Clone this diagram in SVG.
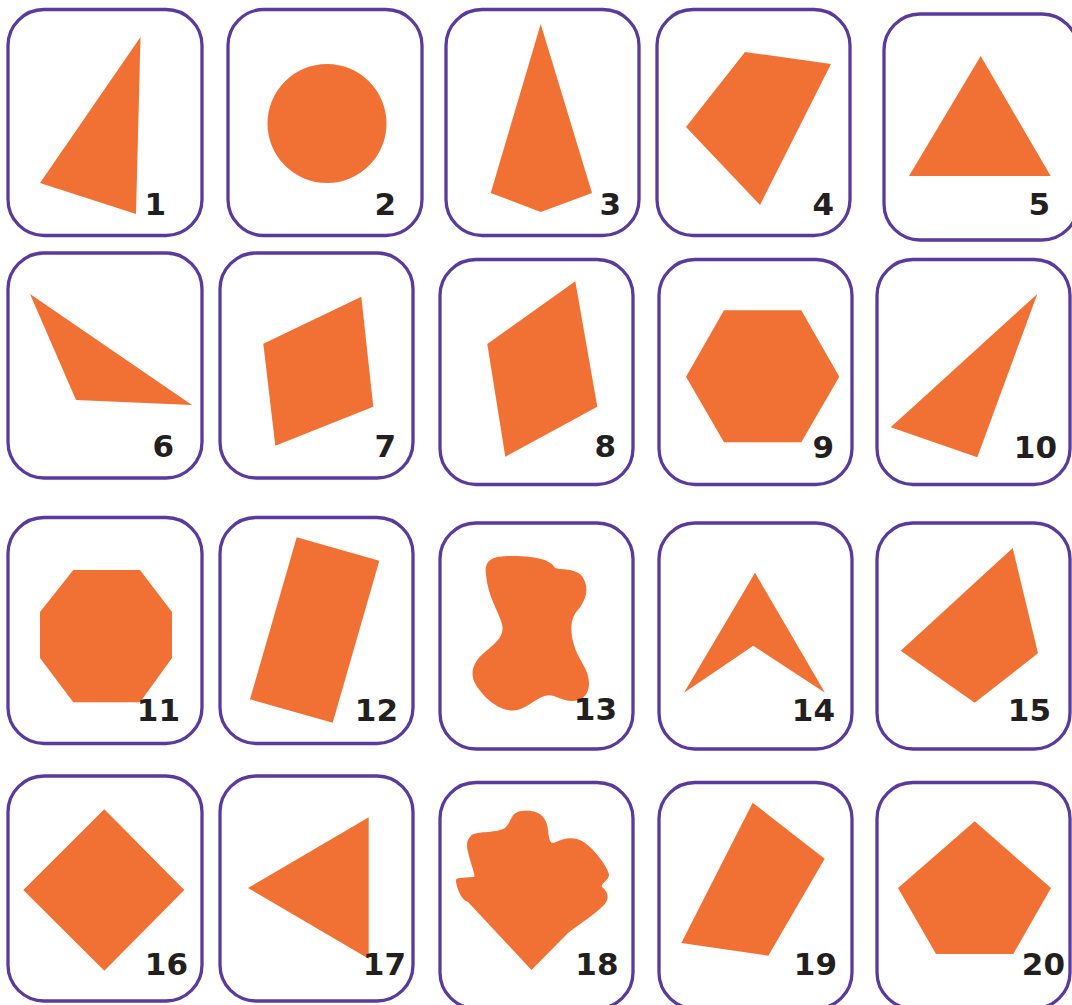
<svg xmlns="http://www.w3.org/2000/svg" width="1072" height="1005" viewBox="0 0 1072 1005">
<style>
.card{fill:#fff;stroke:#5a3a9c;stroke-width:3.3}
.shape{fill:#f17134}
.num{font-family:"DejaVu Sans","Liberation Sans",Arial,sans-serif;font-weight:bold;font-size:31px;fill:#231f20;text-anchor:end}
</style>
<rect width="1072" height="1005" fill="#fff"/>
<g id="card1"><rect class="card" x="8" y="9.5" width="194" height="226" rx="36"/><polygon class="shape" points="140.5,37 40,183 136,214"/><text class="num" x="166" y="215">1</text></g>
<g id="card2"><rect class="card" x="228" y="9.5" width="194" height="226" rx="36"/><circle class="shape" cx="327" cy="123.5" r="59.5"/><text class="num" x="396" y="215">2</text></g>
<g id="card3"><rect class="card" x="446" y="9.5" width="193" height="226" rx="36"/><polygon class="shape" points="540.7,24 592,193 540.7,212 490.7,193"/><text class="num" x="621" y="215">3</text></g>
<g id="card4"><rect class="card" x="657" y="9.5" width="193" height="226" rx="36"/><polygon class="shape" points="745,52 831,64 760,205 686,127"/><text class="num" x="834" y="215">4</text></g>
<g id="card5"><rect class="card" x="884" y="14" width="194" height="226" rx="36"/><polygon class="shape" points="980.7,56 1050.7,176 909,176"/><text class="num" x="1050" y="215">5</text></g>
<g id="card6"><rect class="card" x="8" y="253" width="194" height="225" rx="36"/><polygon class="shape" points="30,294 192,405 76,400"/><text class="num" x="174" y="457">6</text></g>
<g id="card7"><rect class="card" x="220" y="253" width="193" height="225" rx="36"/><polygon class="shape" points="263.3,343.7 361.3,296.7 373.3,406.7 275.3,445.7"/><text class="num" x="396" y="457">7</text></g>
<g id="card8"><rect class="card" x="440" y="259.5" width="193" height="225" rx="36"/><polygon class="shape" points="487.3,344 575.3,281.3 597.3,406.7 505.3,456.7"/><text class="num" x="616" y="457">8</text></g>
<g id="card9"><rect class="card" x="659" y="259.5" width="193" height="225" rx="36"/><polygon class="shape" points="724,310.3 801.3,310.3 839.3,376.7 801.3,442.3 724,442.3 686,376.7"/><text class="num" x="834" y="458">9</text></g>
<g id="card10"><rect class="card" x="877" y="259.5" width="193" height="225" rx="36"/><polygon class="shape" points="1037.3,294 977.3,457.3 890.7,427.3"/><text class="num" x="1057" y="458">10</text></g>
<g id="card11"><rect class="card" x="8" y="517.5" width="194" height="226" rx="36"/><polygon class="shape" points="73.3,570 140,570 172,612 172,658 140,702.3 73.3,702.3 40,658 40,612"/><text class="num" x="180" y="720.5">11</text></g>
<g id="card12"><rect class="card" x="220" y="517.5" width="193" height="226" rx="36"/><polygon class="shape" points="296.7,537.3 379.3,560.7 332.7,722.7 250,699.3"/><text class="num" x="398" y="720.5">12</text></g>
<g id="card13"><rect class="card" x="440" y="523" width="193" height="226" rx="36"/><path class="shape" d="M486 575 C484 560 492 556 510 556 C530 556 550 558 555 568 C560 570 575 568 582 576 C590 588 586 600 578 610 C570 618 570 632 574 645 C578 660 590 670 589 685 C588 700 575 703 565 700 C555 697 550 692 540 698 C530 703 520 713 508 710 C495 708 482 695 476 685 C468 672 475 660 485 652 C495 643 505 637 502 624 C498 610 488 597 486 575 Z"/><text class="num" x="617" y="720">13</text></g>
<g id="card14"><rect class="card" x="659" y="523" width="193" height="226" rx="36"/><polygon class="shape" points="755,572.7 825,692.7 753.3,645.7 684,692.7"/><text class="num" x="835" y="720.5">14</text></g>
<g id="card15"><rect class="card" x="877" y="523" width="193" height="226" rx="36"/><polygon class="shape" points="1012.7,548 1038,653.3 974.7,702.7 900.7,650.7"/><text class="num" x="1051" y="720.5">15</text></g>
<g id="card16"><rect class="card" x="8" y="776" width="194" height="225" rx="36"/><polygon class="shape" points="104.3,809.3 184.3,890 104.3,970.7 23.3,890"/><text class="num" x="188" y="975">16</text></g>
<g id="card17"><rect class="card" x="220" y="776" width="193" height="225" rx="36"/><polygon class="shape" points="368.7,817.3 368.7,958.7 248,888"/><text class="num" x="406" y="975">17</text></g>
<g id="card18"><rect class="card" x="440" y="782.5" width="193" height="226" rx="36"/><path class="shape" d="M470 837 C474 830 495 834 505 828 C512 822 510 812 522 811 C540 809 547 818 548 830 C549 840 550 845 556 842 C565 838 575 836 585 843 C595 850 606 865 609 874 C610 880 600 884 602 887 C608 892 610 898 604 905 C595 914 580 924 568 933 L531.5 970 L468 902 C462 900 458 892 456 882 C455 877 460 878 474 877 C476 876 470 862 468 852 C466 845 467 840 470 837 Z"/><text class="num" x="618.5" y="974.5">18</text></g>
<g id="card19"><rect class="card" x="659" y="782.5" width="193" height="226" rx="36"/><polygon class="shape" points="752.7,802.7 824.7,858.7 768.3,955.7 681.3,943"/><text class="num" x="837" y="975">19</text></g>
<g id="card20"><rect class="card" x="877" y="782.5" width="193" height="226" rx="36"/><polygon class="shape" points="974.7,821.3 1051,888 1013.3,954 936,954 898,888"/><text class="num" x="1065" y="975">20</text></g>
</svg>
